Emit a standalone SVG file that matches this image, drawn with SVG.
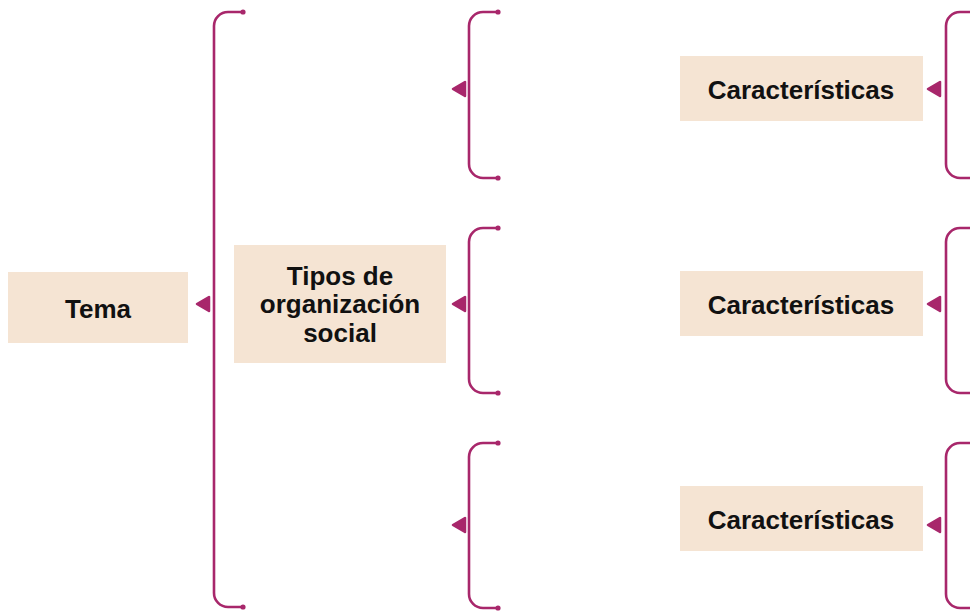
<svg xmlns="http://www.w3.org/2000/svg" width="970" height="611" viewBox="0 0 970 611">
<style>
.box{fill:#F5E4D3}
.br{fill:none;stroke:#A8276B;stroke-width:2.6;stroke-linecap:round}
.dot{fill:#A8276B}
.ar{fill:#A8276B;stroke:#A8276B;stroke-width:2.5;stroke-linejoin:round}
.t{font-family:"Liberation Sans",Arial,sans-serif;font-weight:bold;font-size:26px;fill:#111;text-anchor:middle}
</style>
<rect width="970" height="611" fill="#fff"/>
<g id="tema"><rect class="box" x="8" y="272" width="180" height="71"/><text class="t" x="98" y="318">Tema</text></g>
<g id="tipos"><rect class="box" x="234" y="245" width="212" height="118"/>
<text class="t" x="340" y="285">Tipos de</text><text class="t" x="340" y="313">organización</text><text class="t" x="340" y="342">social</text></g>
<g id="car1"><rect class="box" x="680" y="56" width="243" height="65"/><text class="t" x="801" y="99">Características</text></g>
<g id="car2"><rect class="box" x="680" y="271" width="243" height="65"/><text class="t" x="801" y="314">Características</text></g>
<g id="car3"><rect class="box" x="680" y="486" width="243" height="65"/><text class="t" x="801" y="529">Características</text></g>
<g id="connectors">
<path class="br" d="M243 12 H228 A14 14 0 0 0 214 26 V593 A14 14 0 0 0 228 607 H243"/>
<circle class="dot" cx="243" cy="12" r="2.6"/><circle class="dot" cx="243" cy="607" r="2.6"/>
<polygon class="ar" points="209,297 209,311 197,304"/>
<path class="br" d="M498 12 H483 A14 14 0 0 0 469 26 V164 A14 14 0 0 0 483 178 H498"/>
<circle class="dot" cx="498" cy="12" r="2.6"/><circle class="dot" cx="498" cy="178" r="2.6"/>
<polygon class="ar" points="465,82 465,96 453,89"/>
<path class="br" d="M498 228 H483 A14 14 0 0 0 469 242 V379 A14 14 0 0 0 483 393 H498"/>
<circle class="dot" cx="498" cy="228" r="2.6"/><circle class="dot" cx="498" cy="393" r="2.6"/>
<polygon class="ar" points="465,297 465,311 453,304"/>
<path class="br" d="M498 443 H483 A14 14 0 0 0 469 457 V594 A14 14 0 0 0 483 608 H498"/>
<circle class="dot" cx="498" cy="443" r="2.6"/><circle class="dot" cx="498" cy="608" r="2.6"/>
<polygon class="ar" points="465,518 465,532 453,525"/>
<path class="br" d="M975 12 H960 A14 14 0 0 0 946 26 V164 A14 14 0 0 0 960 178 H975"/>
<polygon class="ar" points="940,82 940,96 928,89"/>
<path class="br" d="M975 228 H960 A14 14 0 0 0 946 242 V379 A14 14 0 0 0 960 393 H975"/>
<polygon class="ar" points="940,297 940,311 928,304"/>
<path class="br" d="M975 443 H960 A14 14 0 0 0 946 457 V594 A14 14 0 0 0 960 608 H975"/>
<polygon class="ar" points="940,518 940,532 928,525"/>
</g>
</svg>
